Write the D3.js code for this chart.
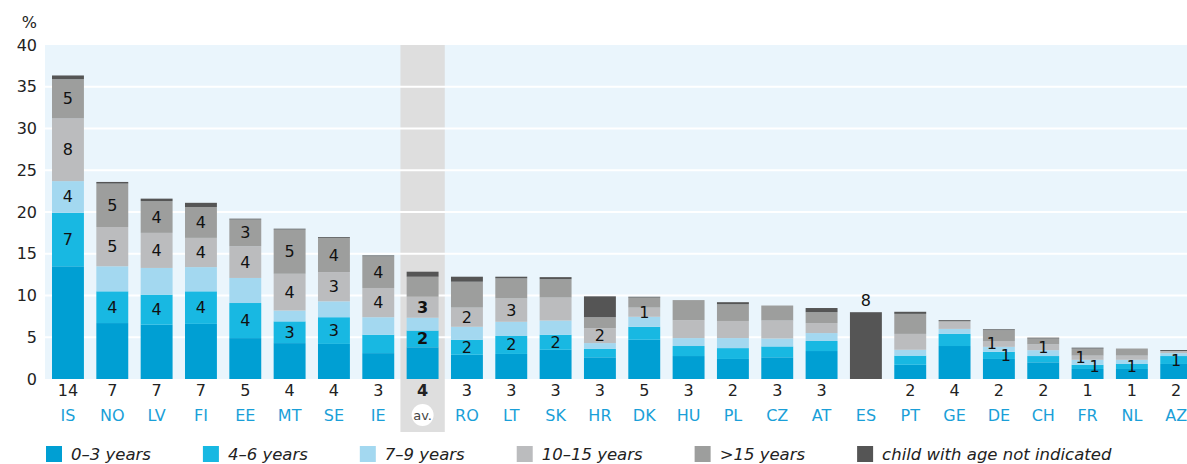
<!DOCTYPE html>
<html>
<head>
<meta charset="utf-8">
<script src="https://cdn.jsdelivr.net/npm/d3@7"></script>
<style>
  body { margin: 0; background: #fff; }
  svg { display: block; font-family: "DejaVu Sans", sans-serif; }
</style>
</head>
<body>
<svg id="chart" width="1187" height="464"></svg>
<script>
const countries = ['IS', 'NO', 'LV', 'FI', 'EE', 'MT', 'SE', 'IE', 'av.', 'RO', 'LT', 'SK', 'HR', 'DK',
  'HU', 'PL', 'CZ', 'AT', 'ES', 'PT', 'GE', 'DE', 'CH', 'FR', 'NL', 'AZ'];

// shares by age of the child, %
const age0to3 = [13.5, 6.7, 6.5, 6.6, 4.9, 4.3, 4.2, 3.1, 3.8, 2.9, 3.0, 3.5, 2.6, 4.7, 2.75, 2.4, 2.6, 3.35, 0, 1.7, 3.95, 2.4, 2.0, 1.2, 1.2, 1.8];
const age4to6 = [6.4, 3.8, 3.6, 3.9, 4.2, 2.6, 3.2, 2.2, 2.0, 1.8, 2.15, 1.8, 1.0, 1.55, 1.2, 1.3, 1.3, 1.2, 0, 1.1, 1.45, 0.85, 0.75, 0.5, 0.6, 0.95];
const age7to9 = [3.8, 3.0, 3.2, 2.9, 3.0, 1.3, 1.9, 2.1, 1.55, 1.55, 1.7, 1.7, 0.7, 1.2, 0.95, 1.2, 0.95, 0.95, 0, 0.7, 0.6, 0.6, 0.7, 0.6, 0.5, 0.35];
const age10to15 = [7.5, 4.7, 4.2, 3.5, 3.8, 4.4, 3.5, 3.5, 2.5, 2.3, 2.8, 2.75, 1.8, 1.1, 2.15, 2.05, 2.15, 1.2, 0, 1.9, 0.85, 0.7, 0.7, 0.5, 0.5, 0.25];
const age15plus = [4.7, 5.2, 3.8, 3.7, 3.2, 5.3, 4.1, 3.8, 2.4, 3.1, 2.4, 2.2, 1.3, 1.2, 2.4, 2.0, 1.8, 1.3, 0, 2.4, 0.1, 1.3, 0.7, 0.85, 0.85, 0];
const ageUnknown = [0.45, 0.2, 0.3, 0.5, 0.1, 0.1, 0.1, 0.1, 0.6, 0.6, 0.2, 0.25, 2.5, 0.1, 0, 0.25, 0, 0.5, 8.0, 0.25, 0.1, 0.1, 0.1, 0.1, 0, 0.12];

// printed labels (null = no label)
const label4to6 = ['7', '4', '4', '4', '4', '3', '3', null, '2', '2', '2', '2', null, null, null, null, null, null, null, null, null, '1', null, '1', '1', '1'];
const label7to9 = ['4', null, null, null, null, null, null, null, null, null, null, null, null, null, null, null, null, null, null, null, null, null, null, null, null, null];
const label10to15 = ['8', '5', '4', '4', '4', '4', '3', '4', '3', '2', '3', null, '2', '1', null, null, null, null, null, null, null, '1', '1', '1', null, null];
const label15plus = ['5', '5', '4', '4', '3', '5', '4', '4', null, null, null, null, null, null, null, null, null, null, null, null, null, null, null, null, null, null];
const labelUnknown = [null, null, null, null, null, null, null, null, null, null, null, null, null, null, null, null, null, null, '8', null, null, null, null, null, null, null];
const label0to3 = ['14', '7', '7', '7', '5', '4', '4', '3', '4', '3', '3', '3', '3', '5', '3', '2', '3', '3', '', '2', '4', '2', '2', '1', '1', '2'];

const yTicks = [0, 5, 10, 15, 20, 25, 30, 35, 40];
const seriesNames = ['0–3 years', '4–6 years', '7–9 years', '10–15 years', '>15 years', 'child with age not indicated'];
const seriesColors = ['#009fd3', '#18b8e2', '#a3d8f0', '#bbbcbe', '#9d9e9d', '#555555'];
const averageKey = 'av.';

const keys = ['a', 'b', 'c', 'd', 'e', 'f'];
const valueSets = [age0to3, age4to6, age7to9, age10to15, age15plus, ageUnknown];
const labelSets = [null, label4to6, label7to9, label10to15, label15plus, labelUnknown];

const rows = countries.map((c, i) => {
  const row = { country: c, index: i };
  keys.forEach((k, j) => { row[k] = valueSets[j][i]; });
  return row;
});

const svg = d3.select('#chart');
const plot = { left: 45, top: 45, right: 1187, bottom: 379 };

const x = d3.scaleBand()
  .domain(countries)
  .range([45.8, 45.8 + 44.33 * countries.length])
  .paddingInner(0.28)
  .paddingOuter(0.14);

const y = d3.scaleLinear().domain([0, 40]).range([plot.bottom, plot.top]);

// background panel
svg.append('rect')
  .attr('x', plot.left).attr('y', plot.top)
  .attr('width', plot.right - plot.left).attr('height', plot.bottom - plot.top)
  .attr('fill', '#eaf5fc');

// average column highlight
const avStep = x.step();
svg.append('rect')
  .attr('x', x(averageKey) - x.paddingInner() * avStep / 2)
  .attr('y', plot.top)
  .attr('width', avStep)
  .attr('height', 432 - plot.top)
  .attr('fill', '#dedede');

// gridlines
svg.append('g')
  .selectAll('line')
  .data(yTicks.filter((t) => t > 0 && t < 40))
  .join('line')
  .attr('x1', plot.left).attr('x2', plot.right)
  .attr('y1', (d) => y(d)).attr('y2', (d) => y(d))
  .attr('stroke', '#ffffff')
  .attr('stroke-width', 2);

// y axis labels
const yAxis = svg.append('g')
  .attr('transform', `translate(${plot.left - 8},0)`)
  .call(d3.axisLeft(y).tickValues(yTicks).tickSize(0).tickPadding(0));
yAxis.select('.domain').remove();
yAxis.selectAll('text')
  .attr('font-family', '"DejaVu Sans", sans-serif')
  .attr('font-size', 16)
  .attr('fill', '#222');

svg.append('text')
  .attr('x', plot.left - 8).attr('y', 22)
  .attr('text-anchor', 'end').attr('dominant-baseline', 'central')
  .attr('font-size', 16).attr('fill', '#222')
  .text('%');

// stacked bars
const stacked = d3.stack().keys(keys)(rows);

const layers = svg.append('g')
  .selectAll('g')
  .data(stacked)
  .join('g')
  .attr('fill', (d, i) => seriesColors[i]);

layers.selectAll('rect')
  .data((d) => d)
  .join('rect')
  .attr('x', (d) => x(d.data.country))
  .attr('width', x.bandwidth())
  .attr('y', (d) => y(d[1]))
  .attr('height', (d) => y(d[0]) - y(d[1]));

// segment labels
const segLabels = [];
stacked.forEach((layer, j) => {
  const labels = labelSets[j];
  if (!labels) return;
  layer.forEach((seg, i) => {
    if (labels[i] == null) return;
    segLabels.push({ i, j, text: labels[i], y0: seg[0], y1: seg[1] });
  });
});

// bars with several thin labelled segments get their labels staggered
const thin = (l) => y(l.y0) - y(l.y1) < 10;
segLabels.forEach((l) => {
  const siblings = segLabels.filter((o) => o.i === l.i && thin(o));
  l.dx = 0;
  if (thin(l) && siblings.length > 1) l.dx = l.j === 1 ? 7 : -7;
});

svg.append('g')
  .selectAll('text')
  .data(segLabels)
  .join('text')
  .attr('x', (d) => x(countries[d.i]) + x.bandwidth() / 2 + d.dx)
  .attr('y', (d) => (d.j === 5 ? y(d.y1) - 12 : (y(d.y0) + y(d.y1)) / 2))
  .attr('text-anchor', 'middle')
  .attr('dominant-baseline', 'central')
  .attr('font-size', 16)
  .attr('font-weight', (d) => (countries[d.i] === averageKey ? 'bold' : 'normal'))
  .attr('fill', '#111')
  .text((d) => d.text);

// 0–3 values under the bars
svg.append('g')
  .selectAll('text')
  .data(countries)
  .join('text')
  .attr('x', (d) => x(d) + x.bandwidth() / 2)
  .attr('y', 390)
  .attr('text-anchor', 'middle')
  .attr('dominant-baseline', 'central')
  .attr('font-size', 16)
  .attr('font-weight', (d) => (d === averageKey ? 'bold' : 'normal'))
  .attr('fill', '#222')
  .text((d, i) => label0to3[i]);

// country names
const names = svg.append('g')
  .selectAll('g')
  .data(countries)
  .join('g')
  .attr('transform', (d) => `translate(${x(d) + x.bandwidth() / 2},415)`);

names.filter((d) => d === averageKey)
  .append('circle')
  .attr('r', 11)
  .attr('fill', '#ffffff');

names.append('text')
  .attr('text-anchor', 'middle')
  .attr('dominant-baseline', 'central')
  .attr('font-size', (d) => (d === averageKey ? 13 : 16))
  .attr('fill', (d) => (d === averageKey ? '#444' : '#1a9fd8'))
  .text((d) => d);

// legend
const legend = svg.append('g').attr('transform', 'translate(46,446)');
let lx = 0;
seriesNames.forEach((name, i) => {
  const item = legend.append('g').attr('transform', `translate(${lx},0)`);
  item.append('rect').attr('width', 16).attr('height', 16).attr('fill', seriesColors[i]);
  const t = item.append('text')
    .attr('x', 25).attr('y', 13.5)
    .attr('font-size', 16.5)
    .attr('font-style', 'italic')
    .attr('fill', '#222')
    .text(name);
  lx += 25 + t.node().getComputedTextLength() + 52;
});
</script>
</body>
</html>
